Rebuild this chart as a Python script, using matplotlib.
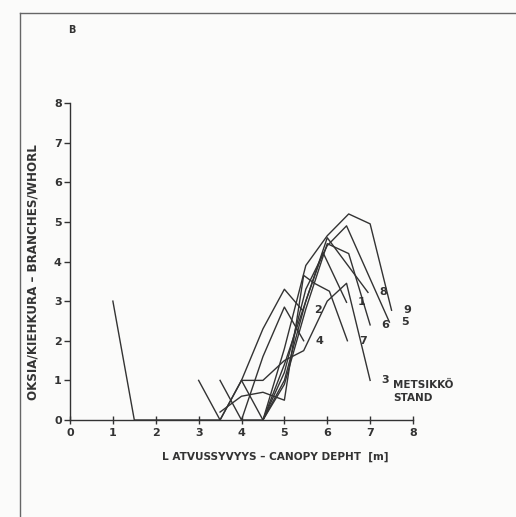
import matplotlib.pyplot as plt
from matplotlib.lines import Line2D

plt.rcParams["font.family"] = ["DejaVu Sans"]
plt.rcParams["font.weight"] = "bold"
plt.rcParams["axes.labelweight"] = "bold"

INK = "#333333"

# branches per whorl against canopy depth, one series per stand
stand_labels = ["9", "5", "8", "6", "1", "3", "7", "2", "4"]
depth = [
    [4.5, 5.0, 5.5, 6.0, 6.5, 7.0, 7.5],
    [4.5, 5.0, 5.5, 6.0, 6.45, 7.45],
    [4.0, 4.5, 5.0, 5.5, 6.0, 6.95],
    [4.0, 4.5, 5.0, 5.5, 6.0, 6.5, 7.0],
    [4.5, 5.0, 5.5, 5.9, 6.45],
    [3.0, 3.5, 4.0, 4.5, 5.0, 5.45, 6.0, 6.45, 7.0],
    [3.5, 4.0, 4.5, 5.0, 5.45, 5.7, 6.05, 6.47],
    [1.0, 1.5, 2.0, 2.5, 3.0, 3.5, 4.0, 4.5, 5.0, 5.42],
    [3.5, 4.0, 4.5, 5.0, 5.45],
]
branches = [
    [0, 1.8, 3.9, 4.65, 5.2, 4.95, 2.77],
    [0, 1.2, 3.3, 4.4, 4.9, 2.47],
    [0, 0, 1.0, 3.0, 4.6, 3.22],
    [1.0, 0, 0.9, 2.8, 4.45, 4.2, 2.4],
    [0, 1.4, 3.0, 4.23, 2.97],
    [1.0, 0, 1.0, 1.0, 1.5, 1.75, 3.0, 3.45, 1.0],
    [0.2, 0.6, 0.7, 0.5, 3.65, 3.45, 3.25, 2.0],
    [3.0, 0, 0, 0, 0, 0, 1.0, 2.3, 3.3, 2.77],
    [1.0, 0, 1.6, 2.85, 2.0],
]

fig = plt.figure(figsize=(5.16, 5.17), dpi=100)
fig.patch.set_facecolor("#fbfbfa")

# page frame
fig.add_artist(Line2D([20 / 516, 20 / 516], [0, 1 - 13 / 517],
                      color="#666666", lw=1.0))
fig.add_artist(Line2D([20 / 516, 1], [1 - 13 / 517, 1 - 13 / 517],
                      color="#666666", lw=1.0))
fig.text(72 / 516, 1 - 30 / 517, "B", fontsize=7, color=INK,
         ha="center", va="center")

ax = fig.add_axes([70 / 516, 1 - 420 / 517, 343 / 516, 317 / 517])
ax.set_facecolor("none")

for xs, ys, name in zip(depth, branches, stand_labels):
    ax.plot(xs, ys, color=INK, lw=1.0)
    ax.annotate(name, (xs[-1], ys[-1]), xytext=(11, 0),
                textcoords="offset points", ha="center", va="center",
                fontsize=8, color=INK, annotation_clip=False)

ax.text(7.53, 0.72, "METSIKKÖ\nSTAND", fontsize=7.5, color=INK,
        ha="left", va="center", linespacing=1.4)

ax.set_xlim(0, 8)
ax.set_ylim(0, 8)
ax.set_xticks(range(9))
ax.set_yticks(range(9))
for side in ("top", "right"):
    ax.spines[side].set_visible(False)
for side in ("left", "bottom"):
    ax.spines[side].set_color(INK)
    ax.spines[side].set_linewidth(1.0)
ax.tick_params(axis="x", direction="inout", length=6, width=1.0,
               colors=INK, labelsize=8, pad=3)
ax.tick_params(axis="y", direction="out", length=4, width=1.0,
               colors=INK, labelsize=8, pad=2)

ax.set_xlabel("L ATVUSSYVYYS – CANOPY DEPHT  [m]", fontsize=7.6,
              color=INK)
ax.xaxis.set_label_coords((275 - 70) / 343, -32 / 317)
ax.set_ylabel("OKSIA/KIEHKURA – BRANCHES/WHORL", fontsize=8.6,
              color=INK)
ax.yaxis.set_label_coords(-30 / 343, (420 - 272) / 317)

fig.savefig("out.png", dpi=100, facecolor=fig.get_facecolor())
